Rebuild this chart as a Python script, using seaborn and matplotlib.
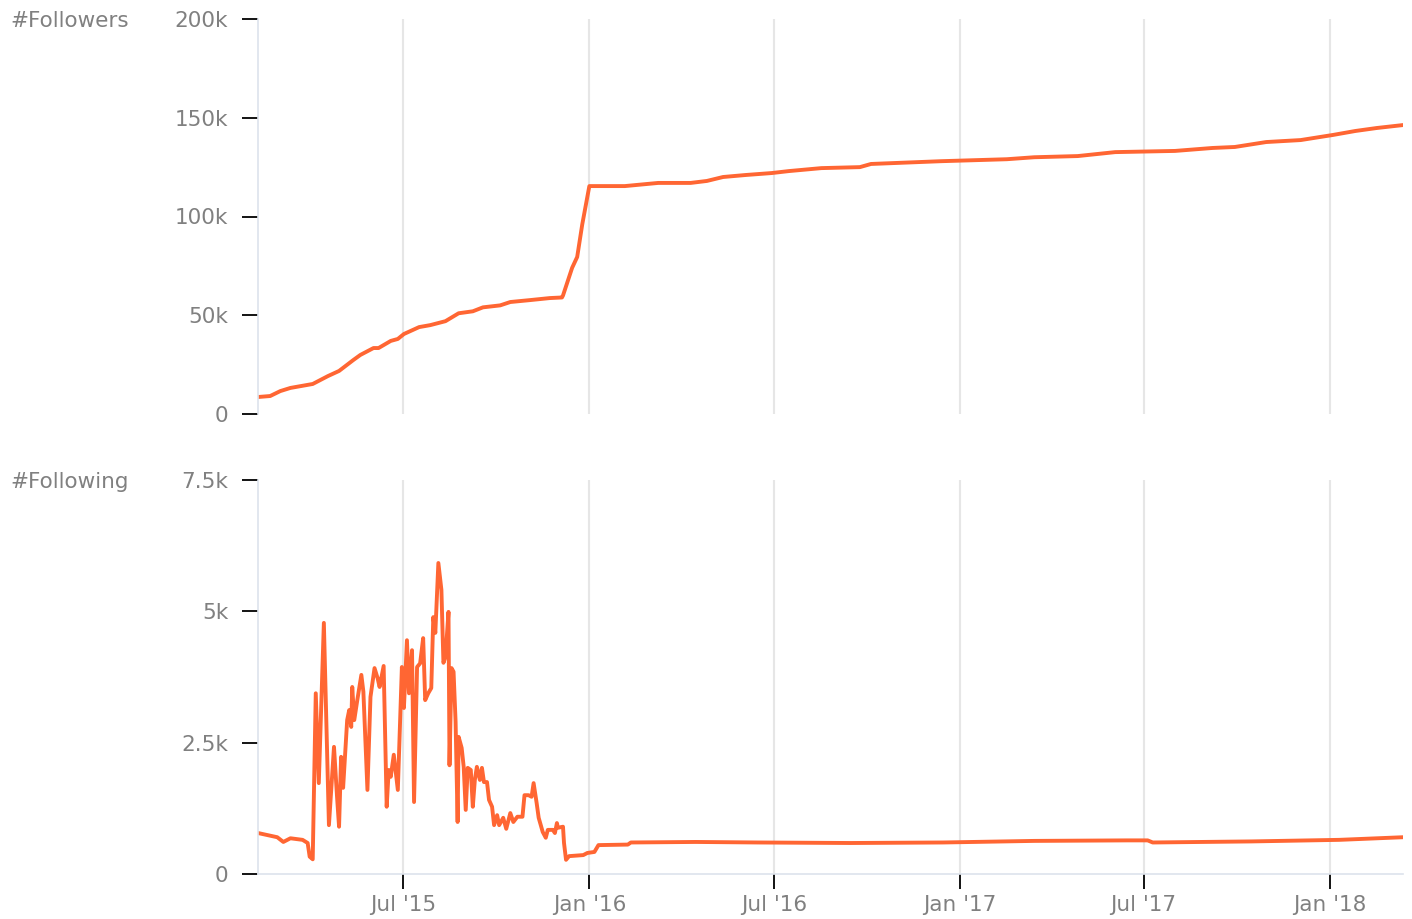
import numpy as np
import pandas as pd
import matplotlib
matplotlib.use("Agg")
import matplotlib.pyplot as plt
import matplotlib.dates as mdates
import seaborn as sns

# ---- data ----
followers_dates = [
    "2015-02-08", "2015-02-20", "2015-03-02", "2015-03-12", "2015-04-03", "2015-04-18",
    "2015-04-29", "2015-05-13", "2015-05-20", "2015-06-02", "2015-06-07", "2015-06-19",
    "2015-06-26", "2015-07-02", "2015-07-17", "2015-07-28", "2015-08-12", "2015-08-25",
    "2015-09-08", "2015-09-18", "2015-10-05", "2015-10-15", "2015-11-04", "2015-11-23",
    "2015-12-05", "2015-12-06", "2015-12-15", "2015-12-20", "2015-12-25", "2016-01-01",
    "2016-02-05", "2016-03-09", "2016-04-10", "2016-04-26", "2016-05-12", "2016-06-03",
    "2016-06-29", "2016-07-16", "2016-08-17", "2016-09-24", "2016-10-05", "2016-12-13",
    "2017-02-16", "2017-03-15", "2017-04-27", "2017-06-03", "2017-08-01", "2017-09-07",
    "2017-09-29", "2017-10-30", "2017-12-03", "2018-01-04", "2018-01-26", "2018-02-16",
    "2018-03-14",
]
followers_values = [
    8600, 9100, 11600, 13200, 15200, 19200,
    21800, 27300, 29900, 33400, 33400, 37000,
    38000, 40500, 44000, 45000, 47000, 51000,
    52000, 54000, 55000, 56700, 57700, 58700,
    59000, 60000, 74000, 79500, 96000, 115400,
    115400, 117000, 117000, 118000, 120000, 121000,
    122000, 123000, 124500, 125000, 126600, 128000,
    129000, 130000, 130600, 132600, 133200, 134700,
    135200, 137700, 138700, 141300, 143300, 144800,
    146300,
]

following_dates = [
    "2015-02-08", "2015-02-27", "2015-03-05", "2015-03-12", "2015-03-24", "2015-03-29",
    "2015-03-31", "2015-04-03", "2015-04-06", "2015-04-09", "2015-04-14", "2015-04-19",
    "2015-04-24", "2015-04-27", "2015-04-29", "2015-05-01", "2015-05-03", "2015-05-07",
    "2015-05-09", "2015-05-11", "2015-05-12", "2015-05-14", "2015-05-17", "2015-05-21",
    "2015-05-23", "2015-05-27", "2015-05-30", "2015-06-03", "2015-06-06", "2015-06-08",
    "2015-06-12", "2015-06-15", "2015-06-17", "2015-06-19", "2015-06-22", "2015-06-26",
    "2015-06-30", "2015-07-02", "2015-07-05", "2015-07-07", "2015-07-10", "2015-07-12",
    "2015-07-15", "2015-07-18", "2015-07-21", "2015-07-23", "2015-07-26", "2015-07-29",
    "2015-07-31", "2015-08-02", "2015-08-05", "2015-08-08", "2015-08-10", "2015-08-12",
    "2015-08-15", "2015-08-16", "2015-08-18", "2015-08-20", "2015-08-22", "2015-08-24",
    "2015-08-25", "2015-08-28", "2015-08-30", "2015-09-01", "2015-09-03", "2015-09-06",
    "2015-09-08", "2015-09-10", "2015-09-12", "2015-09-15", "2015-09-17", "2015-09-19",
    "2015-09-22", "2015-09-24", "2015-09-27", "2015-09-29", "2015-10-02", "2015-10-04",
    "2015-10-08", "2015-10-11", "2015-10-15", "2015-10-18", "2015-10-22", "2015-10-27",
    "2015-10-29", "2015-11-02", "2015-11-05", "2015-11-07", "2015-11-10", "2015-11-12",
    "2015-11-16", "2015-11-19", "2015-11-21", "2015-11-26", "2015-11-28", "2015-11-30",
    "2015-12-01", "2015-12-06", "2015-12-07", "2015-12-09", "2015-12-12", "2015-12-26",
    "2015-12-30", "2016-01-06", "2016-01-10", "2016-02-08", "2016-02-11", "2016-04-15",
    "2016-06-15", "2016-09-15", "2016-12-15", "2017-03-15", "2017-06-15", "2017-07-05",
    "2017-07-10", "2017-10-15", "2018-01-10", "2018-03-14",
]
following_values = [
    780, 700, 610, 680, 650, 590,
    330, 280, 3440, 1730, 4780, 930,
    2420, 1470, 900, 2230, 1640, 2930,
    3120, 2800, 3560, 2930, 3310, 3790,
    3470, 1600, 3370, 3920, 3730, 3560,
    3960, 1280, 1980, 1850, 2270, 1600,
    3940, 3160, 4450, 3440, 4260, 1370,
    3940, 4010, 4490, 3310, 3440, 3540,
    4890, 4590, 5920, 5410, 4020, 4130,
    4990, 2070, 3920, 3850, 2900, 990,
    2610, 2400, 2040, 1220, 2020, 1980,
    1280, 1790, 2040, 1790, 2020, 1750,
    1750, 1410, 1280, 930, 1120, 930,
    1070, 860, 1160, 990, 1090, 1090,
    1500, 1500, 1470, 1730, 1350, 1070,
    800, 690, 840, 840, 780, 970,
    880, 900, 590, 270, 340, 360,
    400, 420, 550, 560, 600, 610,
    600, 590, 600, 630, 640, 640,
    600, 620, 650, 700,
]

followers_ticks = [0, 50000, 100000, 150000, 200000]
followers_ticklabels = ["0", "50k", "100k", "150k", "200k"]
following_ticks = [0, 2500, 5000, 7500]
following_ticklabels = ["0", "2.5k", "5k", "7.5k"]

df_f = pd.DataFrame({"date": pd.to_datetime(followers_dates), "value": followers_values})
df_g = pd.DataFrame({"date": pd.to_datetime(following_dates), "value": following_values})

# ---- style ----
sns.set_theme(style="white")
plt.rcParams["font.family"] = ["DejaVu Sans"]

LINE = "#ff6633"
TXT = "#808080"
SPINE = "#dde3ec"
GRID = "#e6e6e6"
FS = 15.5

fig = plt.figure(figsize=(14.12, 9.19), dpi=100)
ax1 = fig.add_axes([258 / 1412, 1 - 414 / 919, (1403 - 258) / 1412, (414 - 19) / 919])
ax2 = fig.add_axes([258 / 1412, 1 - 874 / 919, (1403 - 258) / 1412, (874 - 480) / 919])

sns.lineplot(data=df_f, x="date", y="value", ax=ax1, color=LINE, linewidth=2.8)
sns.lineplot(data=df_g, x="date", y="value", ax=ax2, color=LINE, linewidth=2.8)

xmin = pd.Timestamp("2015-02-08")
xmax = pd.Timestamp("2018-03-14")

for ax, ticks, labels, top in [
    (ax1, followers_ticks, followers_ticklabels, followers_ticks[-1]),
    (ax2, following_ticks, following_ticklabels, following_ticks[-1]),
]:
    ax.set_xlim(xmin, xmax)
    ax.set_ylim(0, top)
    ax.set_yticks(ticks)
    ax.set_yticklabels(labels)
    ax.set_xlabel("")
    ax.set_ylabel("")
    ax.xaxis.set_major_locator(mdates.MonthLocator(bymonth=[1, 7]))
    ax.xaxis.set_major_formatter(mdates.DateFormatter("%b '%y"))
    ax.grid(axis="x", color=GRID, linewidth=1.5)
    ax.grid(axis="y", visible=False)
    for s in ["top", "right"]:
        ax.spines[s].set_visible(False)
    ax.spines["left"].set_color(SPINE)
    ax.spines["left"].set_linewidth(1.2)
    ax.tick_params(axis="y", left=True, length=11.5, width=1.3, color="black",
                   pad=10, labelsize=FS, labelcolor=TXT)
    ax.set_facecolor("white")

ax1.spines["bottom"].set_visible(False)
ax1.tick_params(axis="x", bottom=False, labelbottom=False)

ax2.spines["bottom"].set_color(SPINE)
ax2.spines["bottom"].set_linewidth(1.2)
ax2.tick_params(axis="x", bottom=True, length=11, width=1.3, color="black",
                pad=4, labelsize=FS, labelcolor=TXT)

fig.text(10 / 1412, 1 - 21 / 919, "#Followers", fontsize=FS, color=TXT, ha="left", va="center")
fig.text(10 / 1412, 1 - 482 / 919, "#Following", fontsize=FS, color=TXT, ha="left", va="center")

fig.savefig("out.png", dpi=100)
